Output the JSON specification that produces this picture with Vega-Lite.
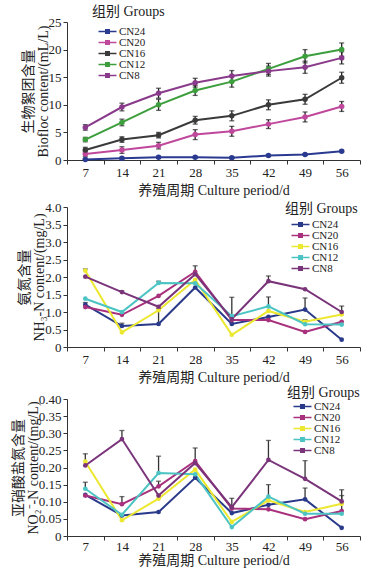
{
  "$schema": "https://vega.github.io/schema/vega-lite/v6.json",
  "background": "white",
  "padding": {"left": 11, "top": 5, "right": 5, "bottom": 5},
  "spacing": 47,
  "bounds": "flush",
  "datasets": {
    "bio": [
      {"d": 7, "g": "CN24", "v": 0.1, "e": 0.15}, {"d": 14, "g": "CN24", "v": 0.3, "e": 0.15}, {"d": 21, "g": "CN24", "v": 0.5, "e": 0.15}, {"d": 28, "g": "CN24", "v": 0.5, "e": 0.15}, {"d": 35, "g": "CN24", "v": 0.4, "e": 0.15}, {"d": 42, "g": "CN24", "v": 0.8, "e": 0.15}, {"d": 49, "g": "CN24", "v": 1.0, "e": 0.15}, {"d": 56, "g": "CN24", "v": 1.6, "e": 0.15},
      {"d": 7, "g": "CN20", "v": 1.1, "e": 0.5}, {"d": 14, "g": "CN20", "v": 1.8, "e": 0.6}, {"d": 21, "g": "CN20", "v": 2.6, "e": 0.6}, {"d": 28, "g": "CN20", "v": 4.6, "e": 0.9}, {"d": 35, "g": "CN20", "v": 5.2, "e": 0.9}, {"d": 42, "g": "CN20", "v": 6.5, "e": 0.8}, {"d": 49, "g": "CN20", "v": 7.8, "e": 0.9}, {"d": 56, "g": "CN20", "v": 9.7, "e": 0.9},
      {"d": 7, "g": "CN16", "v": 1.8, "e": 0.5}, {"d": 14, "g": "CN16", "v": 3.7, "e": 0.5}, {"d": 21, "g": "CN16", "v": 4.5, "e": 0.5}, {"d": 28, "g": "CN16", "v": 7.2, "e": 0.7}, {"d": 35, "g": "CN16", "v": 8.0, "e": 0.9}, {"d": 42, "g": "CN16", "v": 10.0, "e": 0.9}, {"d": 49, "g": "CN16", "v": 11.0, "e": 0.9}, {"d": 56, "g": "CN16", "v": 14.9, "e": 1.0},
      {"d": 7, "g": "CN12", "v": 3.7, "e": 0.4}, {"d": 14, "g": "CN12", "v": 6.8, "e": 0.6}, {"d": 21, "g": "CN12", "v": 10.0, "e": 1.0}, {"d": 28, "g": "CN12", "v": 12.6, "e": 0.9}, {"d": 35, "g": "CN12", "v": 14.2, "e": 1.0}, {"d": 42, "g": "CN12", "v": 16.5, "e": 1.0}, {"d": 49, "g": "CN12", "v": 18.8, "e": 1.2}, {"d": 56, "g": "CN12", "v": 20.0, "e": 1.2},
      {"d": 7, "g": "CN8", "v": 5.9, "e": 0.5}, {"d": 14, "g": "CN8", "v": 9.6, "e": 0.7}, {"d": 21, "g": "CN8", "v": 12.1, "e": 0.9}, {"d": 28, "g": "CN8", "v": 14.0, "e": 0.8}, {"d": 35, "g": "CN8", "v": 15.2, "e": 1.0}, {"d": 42, "g": "CN8", "v": 16.1, "e": 0.9}, {"d": 49, "g": "CN8", "v": 16.8, "e": 1.1}, {"d": 56, "g": "CN8", "v": 18.5, "e": 1.1}
    ],
    "nh": [
      {"d": 7, "g": "CN24", "v": 1.21, "hi": 1.27}, {"d": 14, "g": "CN24", "v": 0.60, "hi": 0.68}, {"d": 21, "g": "CN24", "v": 0.66, "hi": 1.1}, {"d": 28, "g": "CN24", "v": 1.70}, {"d": 35, "g": "CN24", "v": 0.66, "hi": 1.42}, {"d": 42, "g": "CN24", "v": 0.86}, {"d": 49, "g": "CN24", "v": 1.07, "hi": 1.4}, {"d": 56, "g": "CN24", "v": 0.21},
      {"d": 7, "g": "CN20", "v": 1.14}, {"d": 14, "g": "CN20", "v": 0.92}, {"d": 21, "g": "CN20", "v": 1.46}, {"d": 28, "g": "CN20", "v": 2.15}, {"d": 35, "g": "CN20", "v": 0.77}, {"d": 42, "g": "CN20", "v": 0.77}, {"d": 49, "g": "CN20", "v": 0.43}, {"d": 56, "g": "CN20", "v": 0.72},
      {"d": 7, "g": "CN16", "v": 2.18, "hi": 2.23}, {"d": 14, "g": "CN16", "v": 0.42}, {"d": 21, "g": "CN16", "v": 1.05}, {"d": 28, "g": "CN16", "v": 1.92}, {"d": 35, "g": "CN16", "v": 0.35}, {"d": 42, "g": "CN16", "v": 1.03}, {"d": 49, "g": "CN16", "v": 0.72}, {"d": 56, "g": "CN16", "v": 0.93},
      {"d": 7, "g": "CN12", "v": 1.38}, {"d": 14, "g": "CN12", "v": 1.0}, {"d": 21, "g": "CN12", "v": 1.83, "hi": 1.88}, {"d": 28, "g": "CN12", "v": 1.82}, {"d": 35, "g": "CN12", "v": 0.88}, {"d": 42, "g": "CN12", "v": 1.16, "hi": 1.43}, {"d": 49, "g": "CN12", "v": 0.65, "hi": 0.78}, {"d": 56, "g": "CN12", "v": 0.64},
      {"d": 7, "g": "CN8", "v": 2.01}, {"d": 14, "g": "CN8", "v": 1.57, "hi": 1.6}, {"d": 21, "g": "CN8", "v": 1.15}, {"d": 28, "g": "CN8", "v": 2.08, "hi": 2.32}, {"d": 35, "g": "CN8", "v": 0.80}, {"d": 42, "g": "CN8", "v": 1.88, "hi": 2.03}, {"d": 49, "g": "CN8", "v": 1.65}, {"d": 56, "g": "CN8", "v": 1.0, "hi": 1.17}
    ],
    "no": [
      {"d": 7, "g": "CN24", "v": 0.12}, {"d": 14, "g": "CN24", "v": 0.06}, {"d": 21, "g": "CN24", "v": 0.07}, {"d": 28, "g": "CN24", "v": 0.17}, {"d": 35, "g": "CN24", "v": 0.067}, {"d": 42, "g": "CN24", "v": 0.091}, {"d": 49, "g": "CN24", "v": 0.107, "hi": 0.14}, {"d": 56, "g": "CN24", "v": 0.024},
      {"d": 7, "g": "CN20", "v": 0.118}, {"d": 14, "g": "CN20", "v": 0.093, "hi": 0.115}, {"d": 21, "g": "CN20", "v": 0.145, "hi": 0.16}, {"d": 28, "g": "CN20", "v": 0.219}, {"d": 35, "g": "CN20", "v": 0.08}, {"d": 42, "g": "CN20", "v": 0.078}, {"d": 49, "g": "CN20", "v": 0.049}, {"d": 56, "g": "CN20", "v": 0.073, "hi": 0.118},
      {"d": 7, "g": "CN16", "v": 0.217, "hi": 0.24}, {"d": 14, "g": "CN16", "v": 0.046}, {"d": 21, "g": "CN16", "v": 0.109}, {"d": 28, "g": "CN16", "v": 0.194}, {"d": 35, "g": "CN16", "v": 0.041}, {"d": 42, "g": "CN16", "v": 0.104}, {"d": 49, "g": "CN16", "v": 0.07}, {"d": 56, "g": "CN16", "v": 0.094},
      {"d": 7, "g": "CN12", "v": 0.138, "hi": 0.157}, {"d": 14, "g": "CN12", "v": 0.062}, {"d": 21, "g": "CN12", "v": 0.184, "hi": 0.233}, {"d": 28, "g": "CN12", "v": 0.18}, {"d": 35, "g": "CN12", "v": 0.026}, {"d": 42, "g": "CN12", "v": 0.115, "hi": 0.15}, {"d": 49, "g": "CN12", "v": 0.065}, {"d": 56, "g": "CN12", "v": 0.065},
      {"d": 7, "g": "CN8", "v": 0.206}, {"d": 14, "g": "CN8", "v": 0.283, "hi": 0.308}, {"d": 21, "g": "CN8", "v": 0.118}, {"d": 28, "g": "CN8", "v": 0.213, "hi": 0.257}, {"d": 35, "g": "CN8", "v": 0.084, "hi": 0.11}, {"d": 42, "g": "CN8", "v": 0.222, "hi": 0.279}, {"d": 49, "g": "CN8", "v": 0.167, "hi": 0.22}, {"d": 56, "g": "CN8", "v": 0.101, "hi": 0.135}
    ]
  },
  "vconcat": [
    {
      "width": 293, "height": 138,
      "data": {"name": "bio"},
      "encoding": {
        "x": {"field": "d", "type": "ordinal", "scale": {"type": "band", "paddingInner": 0, "paddingOuter": 0}, "axis": {"labelAngle": 0, "tickBand": "extent", "title": "养殖周期  Culture period/d"}},
        "y": {"field": "v", "type": "quantitative", "scale": {"domain": [0, 25]}, "axis": {"values": [0, 5, 10, 15, 20, 25], "title": ["生物絮团含量", "Biofloc content/(mL/L)"]}},
        "color": {"field": "g", "type": "nominal", "scale": {"domain": ["CN24", "CN20", "CN16", "CN12", "CN8"], "range": ["#2a3a90", "#c0489c", "#3a3a3a", "#3c9e3c", "#8a3a8a"]},
          "legend": {"orient": "none", "legendX": 25, "legendY": -17, "title": "组别 Groups", "titlePadding": 7}}
      },
      "layer": [
        {"mark": {"type": "errorbar", "ticks": {"size": 5}, "color": "#222", "thickness": 1.3}, "encoding": {"yError": {"field": "e"}, "color": {"value": "#222"}}},
        {"mark": {"type": "line", "strokeWidth": 2}},
        {"mark": {"type": "point", "filled": true, "size": 30, "opacity": 1}}
      ]
    },
    {
      "spacing": 52,
      "bounds": "flush",
      "vconcat": [
        {
          "width": 293, "height": 140,
          "data": {"name": "nh"},
          "encoding": {
            "x": {"field": "d", "type": "ordinal", "scale": {"type": "band", "paddingInner": 0, "paddingOuter": 0}, "axis": {"labelAngle": 0, "tickBand": "extent", "title": "养殖周期  Culture period/d"}},
            "y": {"field": "v", "type": "quantitative", "scale": {"domain": [0, 4]}, "axis": {"values": [0, 0.5, 1, 1.5, 2, 2.5, 3, 3.5, 4], "labelExpr": "datum.value == 0 ? '0' : format(datum.value, '.1f')", "title": ["氨氮含量", "NH₃-N content/(mg/L)"]}},
            "color": {"field": "g", "type": "nominal", "scale": {"domain": ["CN24", "CN20", "CN16", "CN12", "CN8"], "range": ["#2a3a8a", "#a8307c", "#ece830", "#4cc4c4", "#7a347a"]},
              "legend": {"orient": "none", "legendX": 218, "legendY": -5, "title": "组别 Groups"}}
          },
          "layer": [
            {"mark": {"type": "line", "strokeWidth": 2}},
            {"transform": [{"filter": "datum.hi != null"}], "mark": {"type": "rule", "color": "#333", "strokeWidth": 1.3}, "encoding": {"y2": {"field": "hi"}, "color": {"value": "#333"}}},
            {"transform": [{"filter": "datum.hi != null"}], "mark": {"type": "tick", "color": "#333", "size": 5, "thickness": 1.3}, "encoding": {"y": {"field": "hi", "type": "quantitative"}, "color": {"value": "#333"}}},
            {"mark": {"type": "point", "filled": true, "size": 22, "opacity": 1}}
          ]
        },
        {
          "width": 293, "height": 137,
          "data": {"name": "no"},
          "encoding": {
            "x": {"field": "d", "type": "ordinal", "scale": {"type": "band", "paddingInner": 0, "paddingOuter": 0}, "axis": {"labelAngle": 0, "tickBand": "extent", "title": "养殖周期  Culture period/d", "labelPadding": 0, "titlePadding": 0}},
            "y": {"field": "v", "type": "quantitative", "scale": {"domain": [0, 0.4]}, "axis": {"values": [0, 0.05, 0.1, 0.15, 0.2, 0.25, 0.3, 0.35, 0.4], "labelExpr": "datum.value == 0 ? '0' : format(datum.value, '.2f')", "title": ["亚硝酸盐氮含量", "NO₂⁻-N content/(mg/L)"]}},
            "color": {"field": "g", "type": "nominal", "scale": {"domain": ["CN24", "CN20", "CN16", "CN12", "CN8"], "range": ["#2a3a8a", "#a8307c", "#ece830", "#4cc4c4", "#7a347a"]},
              "legend": {"orient": "none", "legendX": 220, "legendY": -13, "title": "组别 Groups", "titlePadding": 1}}
          },
          "layer": [
            {"mark": {"type": "line", "strokeWidth": 2}},
            {"transform": [{"filter": "datum.hi != null"}], "mark": {"type": "rule", "color": "#333", "strokeWidth": 1.3}, "encoding": {"y2": {"field": "hi"}, "color": {"value": "#333"}}},
            {"transform": [{"filter": "datum.hi != null"}], "mark": {"type": "tick", "color": "#333", "size": 5, "thickness": 1.3}, "encoding": {"y": {"field": "hi", "type": "quantitative"}, "color": {"value": "#333"}}},
            {"mark": {"type": "point", "filled": true, "size": 22, "opacity": 1}}
          ]
        }
      ],
      "resolve": {"scale": {"color": "independent"}, "legend": {"color": "independent"}}
    }
  ],
  "resolve": {"scale": {"color": "independent"}, "legend": {"color": "independent"}},
  "config": {
    "font": "Times New Roman, Liberation Serif, serif",
    "view": {"stroke": null},
    "axis": {"grid": false, "labelFont": "Times New Roman, Liberation Serif, serif", "labelFontSize": 13, "labelColor": "#222", "titleFont": "Times New Roman, Liberation Serif, Noto Sans CJK SC, serif", "titleFontSize": 14, "titleFontWeight": "normal", "titleColor": "#222", "domainColor": "#333", "tickColor": "#333", "tickSize": 4},
    "axisY": {"titlePadding": -2, "titleLineHeight": 15},
    "legend": {"titleFont": "Times New Roman, Liberation Serif, Noto Sans CJK SC, serif", "titleFontSize": 14, "titleFontWeight": "normal", "titleColor": "#222", "labelFont": "Times New Roman, Liberation Serif, serif", "labelFontSize": 11, "labelColor": "#222", "symbolType": "M-1.8,-0.15L1.8,-0.15L1.8,0.15L-1.8,0.15Z M-0.5,-0.5L0.5,-0.5L0.5,0.5L-0.5,0.5Z", "symbolSize": 100, "symbolStrokeWidth": 0, "rowPadding": -4, "titlePadding": 3, "symbolOffset": 10, "labelOffset": 6}
  }
}
